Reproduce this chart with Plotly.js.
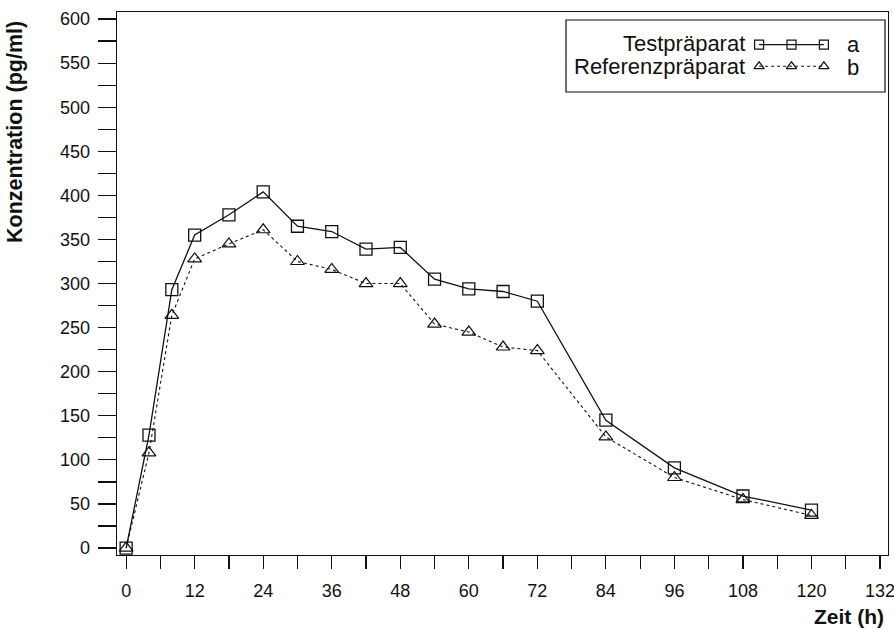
<!DOCTYPE html>
<html><head><meta charset="utf-8">
<script src="https://cdn.plot.ly/plotly-3.0.1.min.js"></script>
<style>body{margin:0;background:#fff}#chart{width:894px;height:630px}</style>
</head><body><div id="chart"></div>
<script>
const hours = [0, 4, 8, 12, 18, 24, 30, 36, 42, 48, 54, 60, 66, 72, 84, 96, 108, 120];
const testValues = [0, 128, 293, 355, 378, 404, 365, 359, 339, 341, 305, 294, 291, 280, 145, 91, 59, 43];
const refValues = [0, 108, 264, 328, 345, 361, 325, 316, 300, 300, 254, 245, 228, 224, 126, 80, 55, 37];
const seriesNames = ["Testpräparat", "Referenzpräparat"];
const seriesLetters = ["a", "b"];
const xTickVals = [0,6,12,18,24,30,36,42,48,54,60,66,72,78,84,90,96,102,108,114,120,126,132];
const xTickText = xTickVals.map(v => v % 12 === 0 ? String(v) : "");
const yTickVals = [];
for (let v = 0; v <= 600; v += 25) yTickVals.push(v);
const yTickText = yTickVals.map(v => v % 50 === 0 ? String(v) : "");

const ink = "#111";
const font = "Liberation Sans, Arial, sans-serif";

const traces = [
  {x: hours, y: testValues, mode: "lines+markers", name: seriesNames[0],
   line: {color: ink, width: 1.3},
   marker: {symbol: "square-open", size: 12, color: ink, line: {width: 1.3}}},
  {x: hours, y: refValues, mode: "lines+markers", name: seriesNames[1],
   line: {color: ink, width: 1.1, dash: "3px,3px"},
   marker: {symbol: "triangle-up-open", size: 12, color: ink, line: {width: 1.2}}},
  // legend samples on an overlay axis
  {x: [0.1, 0.5, 0.9], y: [0.72, 0.72, 0.72], xaxis: "x2", yaxis: "y2", mode: "lines+markers",
   line: {color: ink, width: 1.3}, marker: {symbol: "square-open", size: 9, color: ink, line: {width: 1.2}},
   hoverinfo: "skip"},
  {x: [0.1, 0.5, 0.9], y: [0.28, 0.28, 0.28], xaxis: "x2", yaxis: "y2", mode: "lines+markers",
   line: {color: ink, width: 1.1, dash: "3px,3px"}, marker: {symbol: "triangle-up-open", size: 9, color: ink, line: {width: 1.2}},
   hoverinfo: "skip"}
];

const P = (px) => (px - 117) / 771;      // paper x from pixel
const Q = (py) => (555 - py) / 543;      // paper y from pixel

const layout = {
  width: 894, height: 630,
  margin: {l: 117, r: 6, t: 12, b: 75},
  paper_bgcolor: "#fff", plot_bgcolor: "#fff",
  showlegend: false,
  font: {family: font, color: ink, size: 18},
  xaxis: {
    range: [-1.6, 133.4], tickmode: "array", tickvals: xTickVals, ticktext: xTickText,
    ticks: "outside", ticklen: 13, tickwidth: 1.2, tickcolor: ink,
    showline: true, linecolor: ink, linewidth: 1.3, mirror: true,
    showgrid: false, zeroline: false, ticklabelstandoff: 6, ticklabeloverflow: "allow",
    tickfont: {size: 18, family: font, color: ink}
  },
  yaxis: {
    range: [-7.9, 608], tickmode: "array", tickvals: yTickVals, ticktext: yTickText,
    ticks: "outside", ticklen: 18, tickwidth: 1.2, tickcolor: ink,
    showline: true, linecolor: ink, linewidth: 1.3, mirror: true,
    showgrid: false, zeroline: false, ticklabelstandoff: 4, ticklabeloverflow: "allow",
    tickfont: {size: 18, family: font, color: ink}
  },
  xaxis2: {domain: [P(751), P(832)], range: [0, 1], anchor: "y2", visible: false, fixedrange: true},
  yaxis2: {domain: [Q(80), Q(31)], range: [0, 1], anchor: "x2", visible: false, fixedrange: true},
  shapes: [
    {type: "rect", xref: "paper", yref: "paper",
     x0: P(566), x1: P(885), y0: Q(92), y1: Q(20),
     line: {color: ink, width: 1.2}, fillcolor: "rgba(0,0,0,0)"}
  ],
  annotations: [
    {text: "<b>Konzentration (pg/ml)</b>", xref: "paper", yref: "paper", x: P(15), y: Q(132),
     textangle: -90, showarrow: false, font: {size: 21.5, family: font, color: ink}, xanchor: "center", yanchor: "middle"},
    {text: "<b>Zeit (h)</b>", xref: "paper", yref: "paper", x: P(885), y: Q(616),
     showarrow: false, borderpad: 0, font: {size: 21, family: font, color: ink}, xanchor: "right", yanchor: "middle"},
    {text: seriesNames[0], xref: "paper", yref: "paper", x: P(747), y: Q(44),
     showarrow: false, font: {size: 22, family: font, color: ink}, xanchor: "right", yanchor: "middle"},
    {text: seriesNames[1], xref: "paper", yref: "paper", x: P(747), y: Q(67),
     showarrow: false, font: {size: 22, family: font, color: ink}, xanchor: "right", yanchor: "middle"},
    {text: seriesLetters[0], xref: "paper", yref: "paper", x: P(853), y: Q(45),
     showarrow: false, font: {size: 22, family: font, color: ink}, xanchor: "center", yanchor: "middle"},
    {text: seriesLetters[1], xref: "paper", yref: "paper", x: P(853), y: Q(68),
     showarrow: false, font: {size: 22, family: font, color: ink}, xanchor: "center", yanchor: "middle"}
  ]
};

Plotly.newPlot("chart", traces, layout, {displayModeBar: false, staticPlot: true});
</script>
</body></html>
